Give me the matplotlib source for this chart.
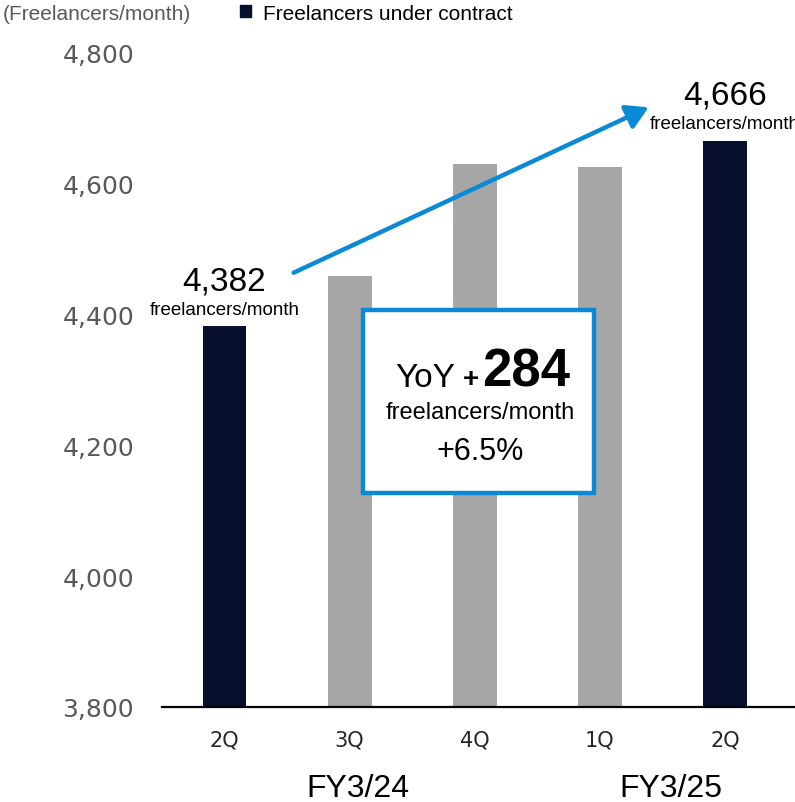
import matplotlib
matplotlib.use("Agg")
import numpy as np
from matplotlib import pyplot as plt
from matplotlib.patches import Patch, Rectangle

plt.rcParams['font.family'] = ['Liberation Sans', 'DejaVu Sans']

# freelancers under contract per month, by quarter
quarters = ['2Q', '3Q', '4Q', '1Q', '2Q']
fiscal_years = ['FY3/24', 'FY3/25']
fy_groups = [[0, 1, 2], [3, 4]]
counts = [4382, 4459, 4630, 4626, 4666]
highlight = [True, False, False, False, True]
yticks = [3800, 4000, 4200, 4400, 4600, 4800]

yoy_diff = counts[-1] - counts[0]
yoy_pct = yoy_diff / counts[0] * 100

navy = '#070e2e'
grey = '#a6a6a6'
blue = '#0a8ad6'
label_grey = '#595959'

fig = plt.figure(figsize=(7.95, 8.03), dpi=100)
ax = fig.add_axes([162 / 795, 1 - 708 / 803, 633 / 795, 654 / 803])

x = np.arange(len(counts))
colors = [navy if h else grey for h in highlight]
ax.bar(x, counts, width=0.35, color=colors, zorder=2)

ax.set_xlim(-0.5, len(counts) - 0.44)
ax.set_ylim(yticks[0], yticks[-1])
ax.set_yticks(yticks)
ax.set_yticklabels([f"{v:,}" for v in yticks], family='DejaVu Sans',
                   fontsize=18, color=label_grey)
ax.set_xticks(x)
ax.set_xticklabels(quarters, family='DejaVu Sans', fontsize=15, color='#262626')
ax.tick_params(axis='y', length=0, pad=20)
ax.tick_params(axis='x', length=0, pad=16)

for side in ['top', 'right', 'left']:
    ax.spines[side].set_visible(False)
ax.spines['bottom'].set_linewidth(1.6)
ax.spines['bottom'].set_color('black')

# fiscal year labels under the quarter ticks
for fy, grp in zip(fiscal_years, fy_groups):
    cx = np.mean(grp) + 0.07
    ax.annotate(fy, xy=(cx, 0), xycoords=('data', 'axes fraction'),
                xytext=(0, -58.5), textcoords='offset points',
                ha='center', va='center', fontsize=23, color='black')

# value callouts on first and last bars
for i in [0, len(counts) - 1]:
    ax.annotate(f"{counts[i]:,}", xy=(x[i], counts[i]), xytext=(0, 33),
                textcoords='offset points', ha='center', va='center',
                fontsize=24, color='black', annotation_clip=False)
    ax.annotate("freelancers/month", xy=(x[i], counts[i]), xytext=(0, 12),
                textcoords='offset points', ha='center', va='center',
                fontsize=13.5, color='black', annotation_clip=False)

# growth arrow
ax.annotate('', xy=(3.39, 4717), xytext=(0.552, 4464),
            arrowprops=dict(arrowstyle='-|>,head_length=0.6,head_width=0.35',
                            lw=3.2, color=blue, mutation_scale=22,
                            shrinkA=0, shrinkB=0),
            annotation_clip=False, zorder=4)

# YoY summary box
box = Rectangle((0.3175, 0.327), 0.365, 0.280, transform=ax.transAxes,
                facecolor='white', edgecolor=blue, lw=3.2, zorder=5)
ax.add_patch(box)
ax.text(0.463, 0.491, "YoY", transform=ax.transAxes, ha='right',
        va='baseline', fontsize=24, color='black', zorder=6)
ax.text(0.4875, 0.491, "+", transform=ax.transAxes, ha='center',
        va='baseline', fontsize=20, fontweight='bold', color='black', zorder=6)
ax.text(0.505, 0.491, f"{yoy_diff}", transform=ax.transAxes, ha='left',
        va='baseline', fontsize=38, fontweight='bold', color='black', zorder=6)
ax.text(0.502, 0.451, "freelancers/month", transform=ax.transAxes,
        ha='center', va='center', fontsize=17, color='black', zorder=6)
ax.text(0.502, 0.392, f"+{yoy_pct:.1f}%", transform=ax.transAxes,
        ha='center', va='center', fontsize=22, color='black', zorder=6)

# unit label and legend
fig.text(3 / 795, 1 - 14 / 803, "(Freelancers/month)", ha='left', va='center',
         fontsize=15, color=label_grey)
fig.legend(handles=[Patch(facecolor=navy, edgecolor=navy)],
           labels=["Freelancers under contract"], loc='center left',
           bbox_to_anchor=(240 / 795, 1 - 14 / 803), frameon=False,
           fontsize=15, handlelength=0.55, handleheight=0.55,
           handletextpad=0.55, borderpad=0, borderaxespad=0)

fig.savefig('out.png', dpi=100)
